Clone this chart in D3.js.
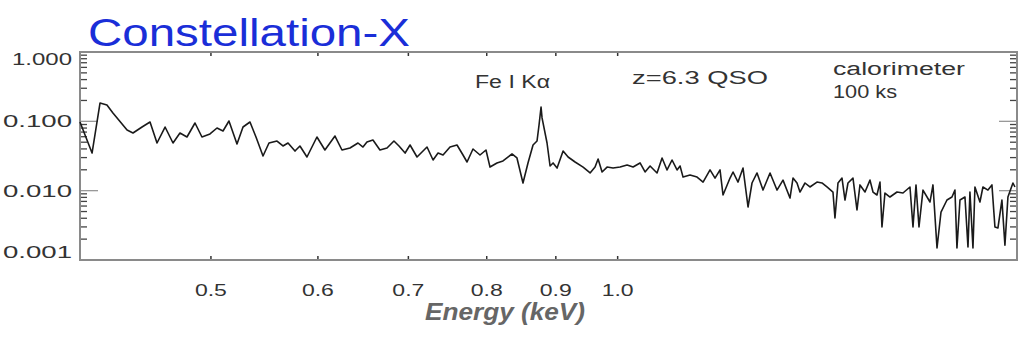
<!DOCTYPE html>
<html><head><meta charset="utf-8">
<script src="https://cdn.jsdelivr.net/npm/d3@7"></script>
<style>body{margin:0;background:#fff}svg{display:block}</style>
</head><body>
<svg id="c" width="1020" height="340"></svg>
<script>
// Energy (keV) sample points of the simulated spectrum
const energy = [0.400,0.4083,0.4139,0.4188,0.4231,0.4334,0.4378,0.4446,0.4507,0.4561,0.4624,0.4687,0.4743,0.4800,0.4866,0.4924,0.4992,0.5052,0.5104,0.5156,0.5227,0.5281,0.5344,0.5399,0.5464,0.5520,0.5596,0.5653,0.5702,0.5770,0.5819,0.5889,0.5990,0.6072,0.6177,0.6251,0.6337,0.6424,0.6479,0.6523,0.6590,0.6669,0.6750,0.6830,0.6889,0.6961,0.7020,0.7104,0.7226,0.7301,0.7363,0.7426,0.7515,0.7605,0.7683,0.7736,0.7815,0.7909,0.7990,0.8045,0.8141,0.8225,0.8352,0.8423,0.8510,0.8583,0.8657,0.8716,0.8746,0.8776,0.8791,0.8866,0.8912,0.8958,0.9019,0.9112,0.9190,0.9300,0.9428,0.9541,0.9622,0.9672,0.9738,0.9821,0.9922,1.0041,1.0162,1.0266,1.0389,1.0478,1.0568,1.0694,1.0786,1.0878,1.0971,1.1065,1.1122,1.1179,1.1313,1.1449,1.1567,1.1705,1.1805,1.1906,1.1967,1.2111,1.2173,1.2277,1.2382,1.2488,1.2573,1.2681,1.2811,1.2965,1.3120,1.3255,1.3414,1.3483,1.3575,1.3644,1.3761,1.3878,1.4045,1.4165,1.4286,1.4433,1.4482,1.4557,1.4657,1.4732,1.4807,1.4934,1.5036,1.5113,1.5243,1.5373,1.5452,1.5557,1.5637,1.5690,1.5770,1.5906,1.6097,1.6262,1.6457,1.6542,1.6627,1.6712,1.6826,1.7028,1.7115,1.7233,1.7351,1.7528,1.7678,1.7768,1.7829,1.7921,1.8074,1.8167,1.8228,1.8322,1.8384,1.8541,1.8636,1.8796,1.8924,1.9021,1.9118,1.9249,1.9348,1.9447,1.9614,1.9681];
// Counts / flux values
const flux = [0.0978,0.0349,0.184,0.172,0.132,0.0750,0.0679,0.0828,0.0978,0.0487,0.0828,0.0487,0.0679,0.0594,0.0946,0.0594,0.0657,0.0801,0.0725,0.1011,0.0471,0.0828,0.0978,0.0594,0.0316,0.0487,0.0520,0.0441,0.0487,0.0373,0.0441,0.0306,0.0594,0.0386,0.0614,0.0386,0.0412,0.0487,0.0426,0.0503,0.0538,0.0386,0.0412,0.0520,0.0441,0.0349,0.0456,0.0306,0.0426,0.0277,0.0349,0.0327,0.0426,0.0456,0.0327,0.0259,0.0399,0.0327,0.0386,0.0219,0.0251,0.0268,0.0338,0.0296,0.0129,0.0251,0.0456,0.0520,0.0885,0.161,0.112,0.0487,0.0227,0.0251,0.0212,0.0373,0.0306,0.0259,0.0219,0.0180,0.0219,0.0286,0.0186,0.0219,0.0212,0.0219,0.0235,0.0219,0.0251,0.0186,0.0227,0.0180,0.0296,0.0199,0.0277,0.0199,0.0227,0.0157,0.0168,0.0157,0.0133,0.0199,0.0152,0.0199,0.00866,0.0152,0.0186,0.0133,0.0212,0.00581,0.0129,0.0180,0.0102,0.0180,0.0102,0.0142,0.00783,0.0152,0.0129,0.00956,0.0129,0.0113,0.0133,0.0129,0.0113,0.00956,0.00403,0.0129,0.0152,0.00733,0.0129,0.0152,0.00526,0.0121,0.00956,0.0142,0.00956,0.00866,0.0133,0.00299,0.00925,0.00810,0.00956,0.00925,0.0113,0.00299,0.0121,0.00299,0.0102,0.00686,0.0121,0.00149,0.00492,0.00733,0.00810,0.0102,0.00149,0.00733,0.00810,0.00154,0.00956,0.00149,0.0113,0.00686,0.0113,0.0102,0.0121,0.00299,0.00289,0.00733,0.00164,0.00810,0.0129,0.0113];
const xTicks = [0.5,0.6,0.7,0.8,0.9,1.0];
const xTickLabels = ["0.5","0.6","0.7","0.8","0.9","1.0"];
const yTicks = [1,0.1,0.01,0.001];
const yTickLabels = ["1.000","0.100","0.010","0.001"];
const title = "Constellation-X";
const xTitle = "Energy (keV)";
const notes = ["Fe I K\u03B1","z=6.3 QSO","calorimeter","100 ks"];

const svg = d3.select("#c");
const L=80, R=1017, T=52, B=260;
const x = d3.scaleLog().domain([0.4,1.975]).range([L,R]);
const y = d3.scaleLog().domain([0.001,1]).range([B,T]);
const frameCol="#8a8a8a", txt="#333";

// minor ticks
const minor=[];
[0.001,0.01,0.1].forEach(d=>{for(let k=2;k<=9;k++)minor.push(d*k);});
const g=svg.append("g");
g.selectAll(".ml").data(minor).join("line").attr("x1",L).attr("x2",L+7)
 .attr("y1",d=>y(d)).attr("y2",d=>y(d)).attr("stroke","#444").attr("stroke-width",1.3);
g.selectAll(".mr").data(minor).join("line").attr("x1",R).attr("x2",R-7)
 .attr("y1",d=>y(d)).attr("y2",d=>y(d)).attr("stroke","#444").attr("stroke-width",1.3);
g.selectAll(".Ml").data([0.1,0.01]).join("line").attr("x1",L).attr("x2",L+18)
 .attr("y1",d=>y(d)).attr("y2",d=>y(d)).attr("stroke","#999").attr("stroke-width",1.3);
g.selectAll(".Mr").data([0.1,0.01]).join("line").attr("x1",R).attr("x2",R-18)
 .attr("y1",d=>y(d)).attr("y2",d=>y(d)).attr("stroke","#999").attr("stroke-width",1.3);
g.selectAll(".xb").data(xTicks).join("line").attr("x1",d=>x(d)).attr("x2",d=>x(d))
 .attr("y1",B).attr("y2",B-4).attr("stroke","#333").attr("stroke-width",1.5);
g.selectAll(".xt").data(xTicks).join("line").attr("x1",d=>x(d)).attr("x2",d=>x(d))
 .attr("y1",T).attr("y2",T+4).attr("stroke","#333").attr("stroke-width",1.5);

// frame
svg.append("rect").attr("x",L).attr("y",T).attr("width",R-L).attr("height",B-T)
 .attr("fill","none").attr("stroke",frameCol).attr("stroke-width",2);

// spectrum
const data = energy.map((e,i)=>[e,flux[i]]);
svg.append("path").datum(data).attr("fill","none").attr("stroke","#1a1a1a")
 .attr("stroke-width",1.6).attr("stroke-linejoin","round")
 .attr("d",d3.line().x(d=>x(d[0])).y(d=>y(d[1])));

// tick labels
svg.selectAll(".xl").data(xTicks).join("text").attr("x",d=>x(d)).attr("y",296)
 .attr("text-anchor","middle").attr("font-family","Liberation Sans, Arial, sans-serif")
 .attr("font-size",17).attr("fill",txt).attr("textLength",32).attr("lengthAdjust","spacingAndGlyphs")
 .text((d,i)=>xTickLabels[i]);
svg.selectAll(".yl").data(yTicks).join("text").attr("x",72)
 .attr("y",d=>Math.max(59,Math.min(252,y(d)))+6)
 .attr("text-anchor","end").attr("font-family","Liberation Sans, Arial, sans-serif")
 .attr("font-size",17).attr("fill",txt)
 .attr("textLength",(d,i)=>i===0?60:69).attr("lengthAdjust","spacingAndGlyphs")
 .text((d,i)=>yTickLabels[i]);

// title
svg.append("text").attr("x",88).attr("y",46).attr("font-family","Liberation Sans, Arial, sans-serif")
 .attr("font-size",38).attr("fill","#1a2ed8").attr("textLength",322).attr("lengthAdjust","spacingAndGlyphs")
 .text(title);
svg.append("text").attr("x",425).attr("y",320).attr("font-family","Liberation Sans, Arial, sans-serif")
 .attr("font-size",24).attr("font-weight","bold").attr("font-style","italic").attr("fill","#666")
 .attr("textLength",160).attr("lengthAdjust","spacingAndGlyphs").text(xTitle);

// annotations
const notePos=[[475,88,75],[632,84,136],[833,75,132],[833,98,64]];
svg.selectAll(".nt").data(notes).join("text")
 .attr("x",(d,i)=>notePos[i][0]).attr("y",(d,i)=>notePos[i][1])
 .attr("font-family","Liberation Sans, Arial, sans-serif").attr("font-size",18).attr("fill",txt)
 .attr("textLength",(d,i)=>notePos[i][2]).attr("lengthAdjust","spacingAndGlyphs").text(d=>d);
</script>
</body></html>
